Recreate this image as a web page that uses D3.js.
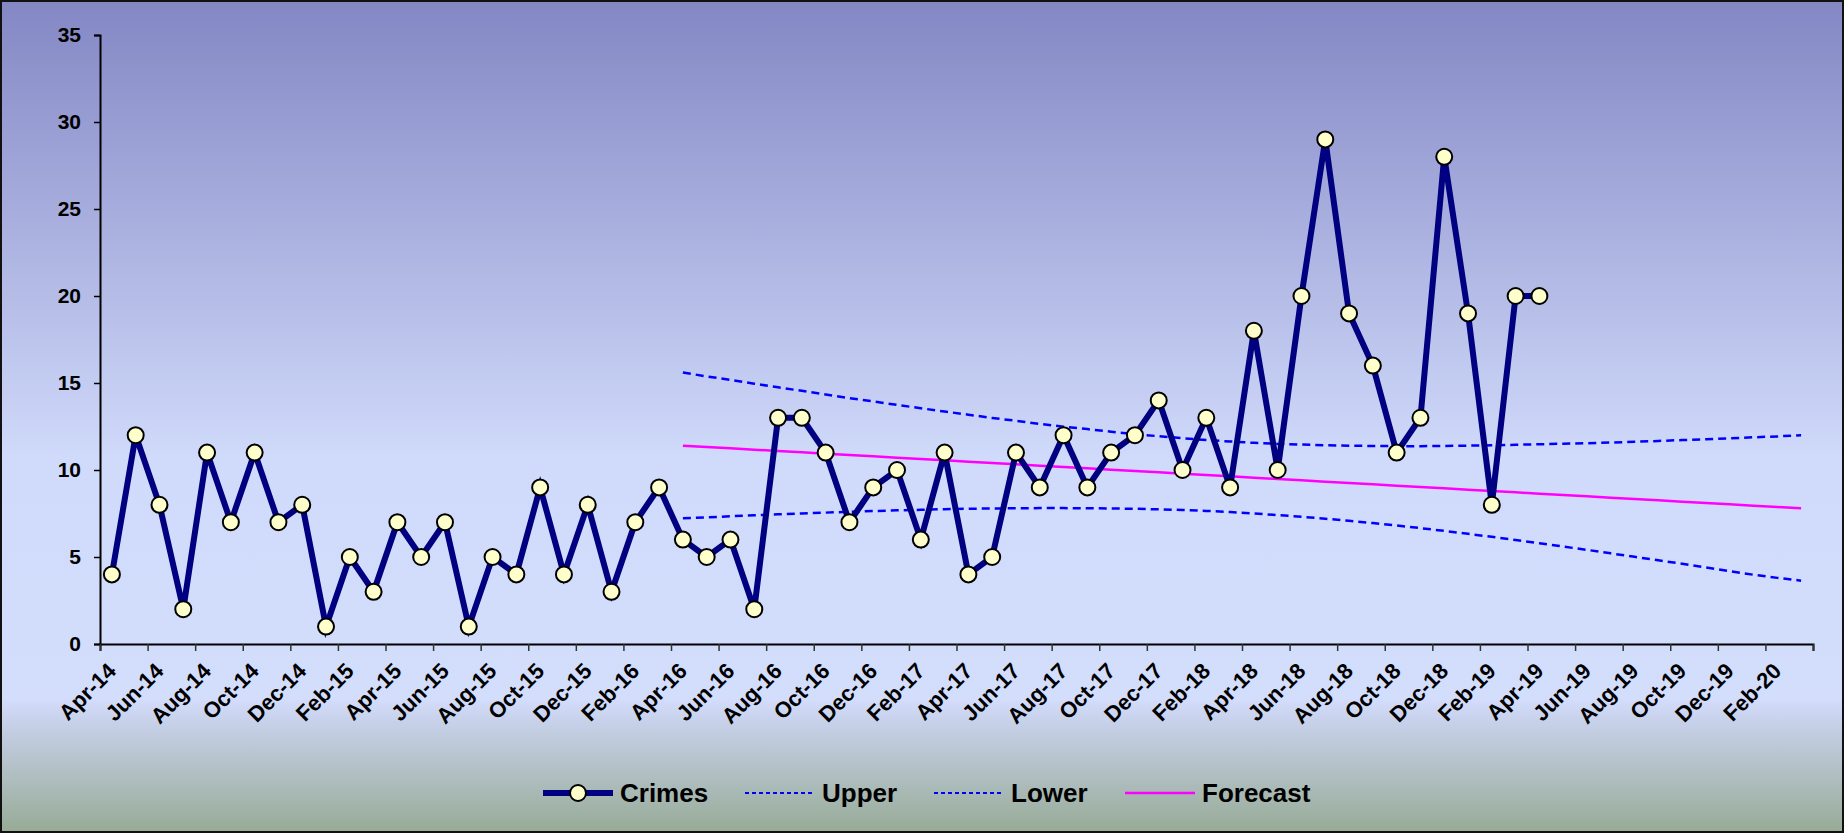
<!DOCTYPE html>
<html>
<head>
<meta charset="utf-8">
<script src="https://cdn.jsdelivr.net/npm/d3@7"></script>
<style>
  html, body { margin: 0; padding: 0; background: #fff; }
  svg { display: block; font-family: "Liberation Sans", Arial, sans-serif; }
</style>
</head>
<body>
<div id="chart"></div>
<script>
// categories: one per month, Apr-14 .. Mar-20
var months = ["Apr-14","May-14","Jun-14","Jul-14","Aug-14","Sep-14","Oct-14","Nov-14","Dec-14",
  "Jan-15","Feb-15","Mar-15","Apr-15","May-15","Jun-15","Jul-15","Aug-15","Sep-15","Oct-15","Nov-15","Dec-15",
  "Jan-16","Feb-16","Mar-16","Apr-16","May-16","Jun-16","Jul-16","Aug-16","Sep-16","Oct-16","Nov-16","Dec-16",
  "Jan-17","Feb-17","Mar-17","Apr-17","May-17","Jun-17","Jul-17","Aug-17","Sep-17","Oct-17","Nov-17","Dec-17",
  "Jan-18","Feb-18","Mar-18","Apr-18","May-18","Jun-18","Jul-18","Aug-18","Sep-18","Oct-18","Nov-18","Dec-18",
  "Jan-19","Feb-19","Mar-19","Apr-19","May-19","Jun-19","Jul-19","Aug-19","Sep-19","Oct-19","Nov-19","Dec-19",
  "Jan-20","Feb-20","Mar-20"];

// Crimes, Apr-14 .. Apr-19
var crimes = [4,12,8,2,11,7,11,7,8,
  1,5,3,7,5,7,1,5,4,9,4,8,
  3,7,9,6,5,6,2,13,13,11,7,9,
  10,6,11,4,5,11,9,12,9,11,12,14,
  10,13,9,18,10,20,29,19,16,11,13,28,
  19,8,20,20];

// forecast band, Apr-16 .. Mar-20
var bandStart = 24;
var forecast = [11.40,11.32,11.25,11.17,11.09,11.02,10.94,10.86,10.79,10.71,10.63,10.56,
  10.48,10.40,10.33,10.25,10.17,10.10,10.02,9.94,9.87,9.79,9.71,9.64,
  9.56,9.48,9.41,9.33,9.25,9.18,9.10,9.02,8.95,8.87,8.79,8.72,
  8.64,8.56,8.49,8.41,8.33,8.26,8.18,8.10,8.03,7.95,7.87,7.80];
var upper = [15.60,15.38,15.18,14.96,14.75,14.55,14.34,14.13,13.94,13.74,13.55,13.36,
  13.18,12.99,12.83,12.65,12.49,12.35,12.20,12.06,11.94,11.83,11.72,11.64,
  11.56,11.50,11.46,11.42,11.40,11.38,11.37,11.37,11.38,11.40,11.42,11.45,
  11.48,11.51,11.54,11.58,11.62,11.67,11.72,11.77,11.82,11.88,11.93,12.00];
var lower = [7.22,7.28,7.34,7.40,7.45,7.50,7.55,7.60,7.64,7.68,7.71,7.75,
  7.77,7.79,7.80,7.81,7.81,7.80,7.79,7.77,7.74,7.70,7.65,7.58,
  7.50,7.41,7.31,7.20,7.08,6.95,6.81,6.66,6.50,6.33,6.16,5.98,
  5.79,5.60,5.41,5.21,5.01,4.81,4.61,4.40,4.19,3.98,3.80,3.64];

var yTicks = [0,5,10,15,20,25,30,35];

var W = 1844, H = 833;
var m = { left: 100, right: 1813, top: 35, bottom: 644 };

var svg = d3.select('#chart').append('svg')
  .attr('width', W).attr('height', H);

var defs = svg.append('defs');
var grad = defs.append('linearGradient').attr('id', 'bg')
  .attr('x1', 0).attr('y1', 0).attr('x2', 0).attr('y2', 1);
grad.append('stop').attr('offset', '0').attr('stop-color', '#8387c4');
grad.append('stop').attr('offset', '0.55').attr('stop-color', '#d0dafa');
grad.append('stop').attr('offset', '0.84').attr('stop-color', '#d3ddfc');
grad.append('stop').attr('offset', '0.87').attr('stop-color', '#c6d0e8');
grad.append('stop').attr('offset', '1').attr('stop-color', '#97ab96');

svg.append('rect')
  .attr('x', 1).attr('y', 1).attr('width', W - 2).attr('height', H - 2)
  .attr('fill', 'url(#bg)')
  .attr('stroke', '#111').attr('stroke-width', 2);

var x = d3.scaleBand().domain(months).range([m.left, m.right]).padding(0);
var xi = d3.scaleLinear().domain([0, months.length]).range([m.left, m.right]);
var y = d3.scaleLinear().domain([0, 35]).range([m.bottom, m.top]);

var cx = function (i) { return x(months[i]) + x.bandwidth() / 2; };

// y axis
var yAxis = svg.append('g')
  .attr('transform', 'translate(' + m.left + ',0)')
  .call(d3.axisLeft(y).tickValues(yTicks).tickSize(6).tickPadding(13));
yAxis.select('.domain').attr('stroke', '#000').attr('stroke-width', 2);
yAxis.selectAll('.tick line').attr('stroke', '#000').attr('stroke-width', 1.5);
yAxis.selectAll('.tick text')
  .attr('font-size', 21).attr('font-weight', 'bold').attr('fill', '#000')
  .attr('font-family', '"Liberation Sans", Arial, sans-serif');

// x axis: tick marks between every second month
var xTickAxis = svg.append('g')
  .attr('transform', 'translate(0,' + m.bottom + ')')
  .call(d3.axisBottom(xi).tickValues(d3.range(0, months.length + 1, 2))
    .tickSize(7).tickFormat(''));
xTickAxis.select('.domain').attr('stroke', '#000').attr('stroke-width', 2);
xTickAxis.selectAll('.tick line').attr('stroke', '#333').attr('stroke-width', 1.5);

// x labels every second month, centred on the category
var labelMonths = months.filter(function (d, i) { return i % 2 === 0; });
var xLab = svg.append('g')
  .attr('transform', 'translate(0,' + m.bottom + ')')
  .call(d3.axisBottom(x).tickValues(labelMonths).tickSize(0));
xLab.select('.domain').remove();
xLab.selectAll('.tick text')
  .attr('font-size', 22).attr('font-weight', 'bold').attr('fill', '#000')
  .attr('font-family', '"Liberation Sans", Arial, sans-serif')
  .attr('text-anchor', 'end')
  .attr('y', 0).attr('dy', '0.35em')
  .attr('transform', 'translate(0,23) rotate(-45)');

// forecast band
var bandLine = d3.line()
  .x(function (d, i) { return cx(bandStart + i); })
  .y(function (d) { return y(d); });

svg.append('path').datum(upper)
  .attr('d', bandLine).attr('fill', 'none')
  .attr('stroke', '#0000ff').attr('stroke-width', 2.5).attr('stroke-dasharray', '8,5');
svg.append('path').datum(lower)
  .attr('d', bandLine).attr('fill', 'none')
  .attr('stroke', '#0000ff').attr('stroke-width', 2.5).attr('stroke-dasharray', '8,5');
svg.append('path').datum(forecast)
  .attr('d', bandLine).attr('fill', 'none')
  .attr('stroke', '#ff00ff').attr('stroke-width', 2.5);

// crimes
var crimeLine = d3.line()
  .x(function (d, i) { return cx(i); })
  .y(function (d) { return y(d); });

svg.append('path').datum(crimes)
  .attr('d', crimeLine).attr('fill', 'none')
  .attr('stroke', '#000080').attr('stroke-width', 6).attr('stroke-linejoin', 'miter');

svg.selectAll('circle.pt')
  .data(crimes)
  .enter()
    .append('circle')
    .attr('class', 'pt')
    .attr('cx', function (d, i) { return cx(i); })
    .attr('cy', function (d) { return y(d); })
    .attr('r', 8)
    .attr('fill', '#ffffcc')
    .attr('stroke', '#000').attr('stroke-width', 2);

// legend
var legendItems = [
  { name: 'Crimes', x: 543, color: '#000080', w: 6, dash: null, marker: true },
  { name: 'Upper', x: 745, color: '#0000ff', w: 2, dash: '4,3', marker: false },
  { name: 'Lower', x: 934, color: '#0000ff', w: 2, dash: '4,3', marker: false },
  { name: 'Forecast', x: 1125, color: '#ff00ff', w: 2.5, dash: null, marker: false }
];
var ly = 793;
var lg = svg.append('g');
legendItems.forEach(function (d) {
  lg.append('line')
    .attr('x1', d.x).attr('x2', d.x + 70).attr('y1', ly).attr('y2', ly)
    .attr('stroke', d.color).attr('stroke-width', d.w)
    .attr('stroke-dasharray', d.dash);
  if (d.marker) {
    lg.append('circle').attr('cx', d.x + 35).attr('cy', ly).attr('r', 8)
      .attr('fill', '#ffffcc').attr('stroke', '#000').attr('stroke-width', 2);
  }
  lg.append('text')
    .attr('x', d.x + 77).attr('y', ly).attr('dy', '0.35em')
    .attr('font-size', 26).attr('font-weight', 'bold').attr('fill', '#000')
    .text(d.name);
});
</script>
</body>
</html>
